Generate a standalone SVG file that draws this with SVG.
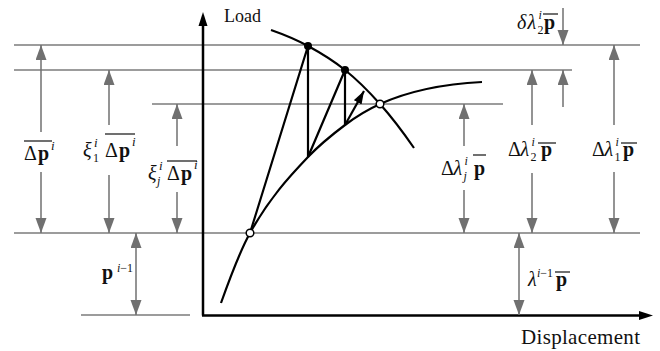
<svg xmlns="http://www.w3.org/2000/svg" width="660" height="351" viewBox="0 0 660 351" font-family="'Liberation Serif', 'Times New Roman', serif">
<style>
.g{stroke:#7b7b7b;stroke-width:1.5;fill:none}
.ga{stroke:#707070;stroke-width:1.5;fill:none;marker-end:url(#ah)}
.gd{stroke:#707070;stroke-width:1.5;fill:none;marker-start:url(#ah);marker-end:url(#ah)}
.k{stroke:#000;stroke-width:2.2;fill:none}
.ax{stroke:#000;stroke-width:2.5;fill:none}
.ol{stroke:#111;stroke-width:1.2}
.m{font-family:'Liberation Serif','Times New Roman',serif;font-size:20px;fill:#111}
.b{font-weight:bold}
.it{font-style:italic}
.s{font-size:12px}
.u{font-size:13px;font-style:italic}
</style>
<defs>
<marker id="ah" markerUnits="userSpaceOnUse" markerWidth="16" markerHeight="12" refX="15" refY="5.5" orient="auto-start-reverse">
<path d="M0,0 L15,5.5 L0,11 z" fill="#707070"/>
</marker>
<marker id="kh" markerUnits="userSpaceOnUse" markerWidth="14" markerHeight="10" refX="13" refY="4.5" orient="auto">
<path d="M0,0 L13,4.5 L0,9 z" fill="#000"/>
</marker>
</defs>
<g id="guides">
<line class="g" x1="14" y1="45" x2="640" y2="45"/>
<line class="g" x1="14" y1="70" x2="572" y2="70"/>
<line class="g" x1="152" y1="104" x2="503" y2="104"/>
<line class="g" x1="14" y1="233" x2="640" y2="233"/>
<line class="g" x1="81" y1="315" x2="190" y2="315"/>
</g>
<g id="axes">
<path class="ax" d="M203,315.5 V24"/>
<path d="M203,12 L198.5,26 L207.5,26 z" fill="#000"/>
<path class="ax" d="M202,315.5 H640"/>
<path d="M653,315.5 L639,311 L639,320 z" fill="#000"/>
<text class="m" x="224" y="22" style="font-size:18px">Load</text>
<text class="m" x="521" y="344" style="font-size:21px" textLength="119">Displacement</text>
</g>
<g id="connectors">
<path class="k" d="M221,303 C230.67,275.9 240.3,250.4 250,233 C269.33,198.2 288.67,177.3 308,157 C320.33,144.05 332.67,134.25 345,125 C356.67,116.25 368.33,109.25 380,104 C414,88.7 448,83.7 482,82"/>
<path class="k" d="M271,30 C283.33,34.3 295.67,39.34 308,46 C320.33,52.66 332.67,60.13 345,70 C356.67,79.33 368.33,90.93 380,104 C391.33,116.69 402.67,131.57 414,148"/>
<path class="k" d="M250,233 L308,46 L308,157 L345,70 L345,125"/>
<path class="k" d="M345,125 L364,91" marker-end="url(#kh)"/>
<line class="ga" x1="41" y1="132" x2="41" y2="45"/>
<line class="ga" x1="41" y1="172" x2="41" y2="233"/>
<line class="ga" x1="109" y1="125" x2="109" y2="70"/>
<line class="ga" x1="109" y1="175" x2="109" y2="233"/>
<line class="ga" x1="177" y1="146" x2="177" y2="104"/>
<line class="ga" x1="177" y1="192" x2="177" y2="233"/>
<line class="gd" x1="136" y1="233" x2="136" y2="315"/>
<line class="ga" x1="464" y1="146" x2="464" y2="104"/>
<line class="ga" x1="464" y1="190" x2="464" y2="233"/>
<line class="ga" x1="532" y1="125" x2="532" y2="70"/>
<line class="ga" x1="532" y1="173" x2="532" y2="233"/>
<line class="ga" x1="614" y1="125" x2="614" y2="45"/>
<line class="ga" x1="614" y1="172" x2="614" y2="233"/>
<line class="ga" x1="563" y1="8" x2="563" y2="45"/>
<line class="ga" x1="563" y1="107" x2="563" y2="70"/>
<line class="gd" x1="519" y1="233" x2="519" y2="315"/>
</g>
<g id="points">
<circle cx="308" cy="46" r="4" fill="#000"/>
<circle cx="345" cy="70" r="4" fill="#000"/>
<circle cx="250" cy="233" r="3.8" fill="#fff" stroke="#000" stroke-width="1.5"/>
<circle cx="380" cy="104" r="3.8" fill="#fff" stroke="#000" stroke-width="1.5"/>
</g>
<g id="label-dp">
<text class="m" x="24" y="160">Δ<tspan class="b" x="38">p</tspan><tspan class="u" x="51" y="150">i</tspan></text>
<line class="ol" x1="24" y1="141" x2="52" y2="141"/>
</g>
<g id="label-xi1">
<text class="m" x="83" y="157"><tspan class="it">ξ</tspan><tspan class="u" x="94" y="147">i</tspan><tspan class="s" x="93" y="162">1</tspan><tspan x="105" y="157">Δ</tspan><tspan class="b" x="119">p</tspan><tspan class="u" x="132" y="146">i</tspan></text>
<line class="ol" x1="105" y1="134" x2="135" y2="134"/>
</g>
<g id="label-xij">
<text class="m" x="148" y="180"><tspan class="it">ξ</tspan><tspan class="u" x="159" y="170">i</tspan><tspan class="s it" x="157" y="185">j</tspan><tspan x="167" y="180">Δ</tspan><tspan class="b" x="181">p</tspan><tspan class="u" x="194" y="169">i</tspan></text>
<line class="ol" x1="167" y1="161" x2="197" y2="161"/>
</g>
<g id="label-pim1">
<text class="m" x="102" y="279"><tspan class="b">p</tspan><tspan class="s" x="117" y="272"><tspan class="it">i</tspan>−1</tspan></text>
</g>
<g id="label-dlj">
<text class="m" x="441" y="175">Δ<tspan class="it" x="453.5">λ</tspan><tspan class="s it" x="464.5" y="165">i</tspan><tspan class="s it" x="463.5" y="180">j</tspan><tspan class="b" x="474" y="175">p</tspan></text>
<line class="ol" x1="473" y1="155" x2="486" y2="155"/>
</g>
<g id="label-dl2">
<text class="m" x="508" y="156">Δ<tspan class="it" x="520.5">λ</tspan><tspan class="s it" x="531.5" y="146">i</tspan><tspan class="s" x="530.5" y="161">2</tspan><tspan class="b" x="541" y="156">p</tspan></text>
<line class="ol" x1="538" y1="143" x2="556" y2="143"/>
</g>
<g id="label-dl1">
<text class="m" x="592" y="156">Δ<tspan class="it" x="604.5">λ</tspan><tspan class="s it" x="615.5" y="146">i</tspan><tspan class="s" x="614.5" y="161">1</tspan><tspan class="b" x="623" y="156">p</tspan></text>
<line class="ol" x1="621" y1="143" x2="637" y2="143"/>
</g>
<g id="label-ddl2">
<text class="m" x="517" y="29"><tspan class="it">δ</tspan><tspan class="it" x="527.5">λ</tspan><tspan class="s it" x="538.5" y="19">i</tspan><tspan class="s" x="537.5" y="34">2</tspan><tspan class="b" x="544" y="29">p</tspan></text>
<line class="ol" x1="543" y1="14" x2="558" y2="14"/>
</g>
<g id="label-lim1">
<text class="m" x="528" y="286"><tspan class="it">λ</tspan><tspan class="s" x="537" y="277"><tspan class="it">i</tspan>−1</tspan><tspan class="b" x="556" y="286">p</tspan></text>
<line class="ol" x1="555" y1="272" x2="570" y2="272"/>
</g>
</svg>
